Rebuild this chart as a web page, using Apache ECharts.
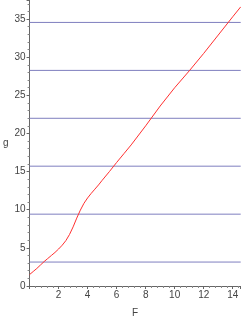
<!DOCTYPE html>
<html>
<head>
<meta charset="utf-8">
<script src="https://cdn.jsdelivr.net/npm/echarts@6/dist/echarts.min.js"></script>
<style>
html,body{margin:0;padding:0;background:#fff;}
#c{width:241px;height:323px;}
</style>
</head>
<body>
<div id="c"></div>
<script>
var fValues = [0, 0.25, 0.5, 0.75, 1.0, 1.25, 1.5, 1.75, 2.0, 2.25, 2.5, 2.75, 3.0, 3.25, 3.5, 3.75, 4.0, 4.25, 4.5, 4.75, 5.0, 5.5, 6.0, 6.5, 7, 8, 9, 10, 11, 12, 13, 14, 14.55];
var gValues = [1.5, 1.9, 2.3, 2.75, 3.2, 3.6, 4.0, 4.4, 4.85, 5.35, 5.95, 6.75, 7.75, 8.9, 9.95, 10.85, 11.55, 12.15, 12.7, 13.25, 13.85, 15.0, 16.2, 17.35, 18.5, 21.0, 23.6, 26.0, 28.2, 30.5, 32.9, 35.3, 36.6];
var levels = [3.14, 9.42, 15.71, 21.99, 28.27, 34.56];
var xRange = [0, 14.55];
var yRange = [0, 37.5];

var chart = echarts.init(document.getElementById('c'), null, {renderer: 'canvas'});
var axisText = {color: '#444', fontSize: 10, fontFamily: 'Liberation Sans, Arial, sans-serif'};
var series = [];
levels.forEach(function (lv) {
  series.push({
    type: 'line',
    data: [[xRange[0], lv], [xRange[1], lv]],
    symbol: 'none',
    silent: true,
    lineStyle: {color: '#7f7fbf', width: 1},
    z: 1
  });
});
series.push({
  type: 'line',
  data: fValues.map(function (f, i) { return [f, gValues[i]]; }),
  symbol: 'none',
  smooth: false,
  lineStyle: {color: '#ff3030', width: 1},
  z: 3
});
chart.setOption({
  animation: false,
  grid: {left: 22, right: 0, top: 0, bottom: 30, containLabel: false},
  xAxis: {
    type: 'value', min: xRange[0], max: xRange[1], interval: 2,
    name: 'F', nameLocation: 'middle', nameGap: 22,
    nameTextStyle: axisText,
    axisLine: {show: true, onZero: false, lineStyle: {color: '#666', width: 1}},
    axisTick: {show: true, length: 3, lineStyle: {color: '#666'}},
    minorTick: {show: true, splitNumber: 5, length: 2, lineStyle: {color: '#888'}},
    axisLabel: Object.assign({showMinLabel: false, showMaxLabel: false, margin: 4}, axisText),
    splitLine: {show: false}
  },
  yAxis: {
    type: 'value', min: yRange[0], max: yRange[1], interval: 5,
    name: 'g', nameLocation: 'middle', nameGap: 16, nameRotate: 0,
    nameTextStyle: axisText,
    axisLine: {show: true, onZero: false, lineStyle: {color: '#666', width: 1}},
    axisTick: {show: true, length: 3, lineStyle: {color: '#666'}},
    minorTick: {show: true, splitNumber: 5, length: 2, lineStyle: {color: '#888'}},
    axisLabel: Object.assign({showMaxLabel: false, margin: 4}, axisText),
    splitLine: {show: false}
  },
  series: series
});
</script>
</body>
</html>
